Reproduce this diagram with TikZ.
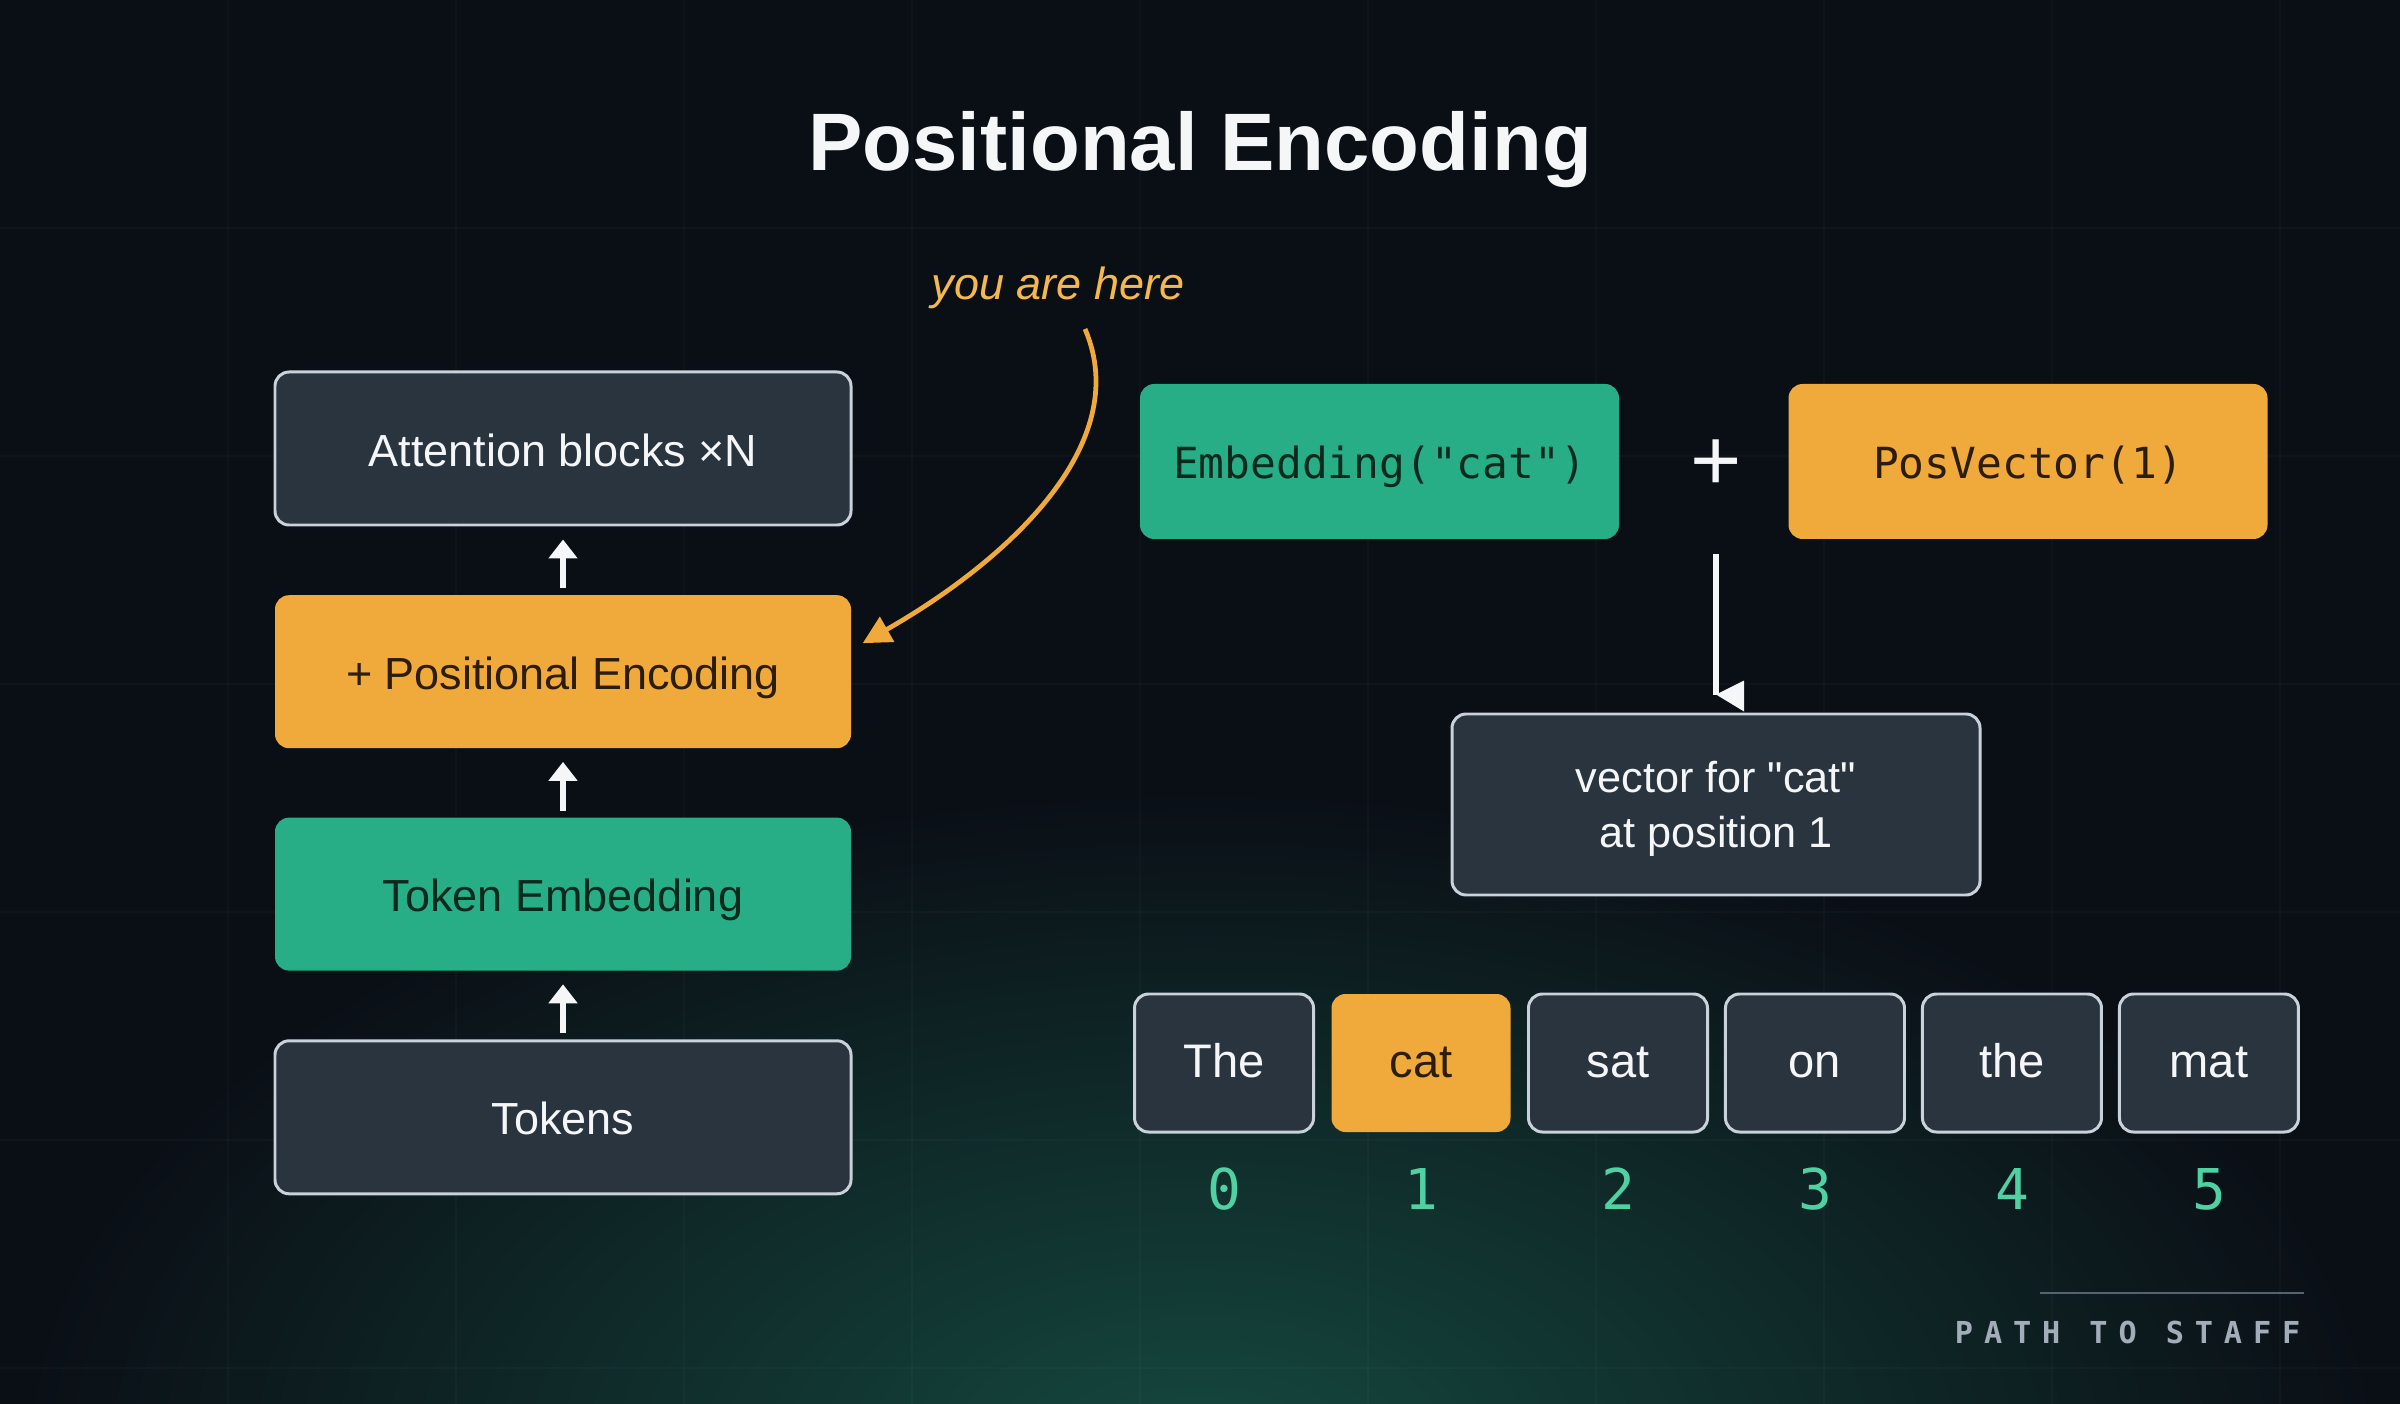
\documentclass[tikz,border=0pt]{standalone}
\usepackage{fontspec}
\setmainfont{Liberation Sans}
\setmonofont{DejaVu Sans Mono}
\newfontfamily\brandfont{DejaVu Sans Mono}[LetterSpace=36]
\usepackage{xcolor}
\usetikzlibrary{arrows.meta,positioning}

\definecolor{bgdark}{HTML}{0A0E15}
\definecolor{glow}{HTML}{15493F}
\definecolor{slate}{HTML}{2A343F}
\definecolor{edge}{HTML}{C9D1DA}
\definecolor{amber}{HTML}{F0A93B}
\definecolor{amberdark}{HTML}{2B1D07}
\definecolor{jade}{HTML}{27AE86}
\definecolor{jadedark}{HTML}{0A2A1E}
\definecolor{mint}{HTML}{4FD1A3}
\definecolor{note}{HTML}{F5B84C}
\definecolor{paper}{HTML}{F4F6F8}
\definecolor{footgray}{HTML}{A3ADB9}
\definecolor{footrule}{HTML}{56626D}

\begin{document}
\begin{tikzpicture}[x=1cm, y=-1cm,
  node distance=0.68cm and 0.15cm,
  stage/.style={rounded corners=4pt, align=center, minimum width=5.76cm,
                minimum height=1.53cm, font=\fontsize{12.8}{15.6}\selectfont,
                text height=11pt, text depth=1pt},
  slatebox/.style={stage, draw=edge, line width=0.85pt, fill=slate, text=paper},
  amberbox/.style={stage, fill=amber, text=amberdark},
  jadebox/.style={stage, fill=jade, text=jadedark},
  codebox/.style={rounded corners=4pt, minimum width=4.79cm, minimum height=1.55cm,
                  font=\ttfamily\fontsize{12.2}{14}\selectfont,
                  text height=10.6pt, text depth=1.2pt},
  vecbox/.style={rounded corners=4pt, align=center, minimum width=5.28cm,
                 minimum height=1.81cm, draw=edge, line width=0.85pt, fill=slate,
                 text=paper, font=\fontsize{12.3}{15.6}\selectfont, text depth=0pt},
  tok/.style={rounded corners=4pt, minimum width=1.79cm, minimum height=1.38cm,
              draw=edge, line width=0.85pt, fill=slate, text=paper,
              font=\fontsize{13.4}{16}\selectfont, text height=10.7pt, text depth=2.2pt},
  idx/.style={font=\ttfamily\fontsize{16}{18}\selectfont, text=mint, inner sep=0pt},
  uparr/.style={-{Triangle[length=5.4pt, width=8pt]}, line width=1.6pt, draw=paper,
                shorten <=0.06cm, shorten >=0.13cm},
  sumline/.style={line width=1.7pt, draw=paper},
  hint/.style={-{Triangle[length=8pt, width=8pt]}, line width=1.35pt, draw=amber},
  gridline/.style={draw=white, draw opacity=0.025, line width=0.5pt}]

  \useasboundingbox (0,0) rectangle (24,14.04);
  \fill[bgdark] (0,0) rectangle (24,14.04);
  \begin{scope}
    \clip (0,0) rectangle (24,14.04);
    \shade[inner color=glow, outer color=bgdark] (12,14.6) ellipse (12 and 6.8);
  \end{scope}
  \foreach \gx in {1,...,10} \draw[gridline] (2.28*\gx,0) -- (2.28*\gx,14.04);
  \foreach \gy in {1,...,6} \draw[gridline] (0,2.28*\gy) -- (24,2.28*\gy);

  \node[font=\bfseries\fontsize{23.2}{28}\selectfont, text=paper, anchor=base]
       (title) at (12,1.71) {Positional Encoding};
  \node[font=\itshape\fontsize{12.8}{15}\selectfont, text=note, anchor=base]
       (here) at (10.58,3.0) {you are here};

  \node[slatebox] (att) at (5.63,4.485) {Attention blocks ×N};
  \node[amberbox, below=of att] (pe) {+ Positional Encoding};
  \node[jadebox, below=of pe] (emb) {Token Embedding};
  \node[slatebox, below=of emb] (toks) {Tokens};

  \draw[uparr] (toks) -- (emb);
  \draw[uparr] (emb) -- (pe);
  \draw[uparr] (pe) -- (att);

  \coordinate (hintstart) at (10.85,3.29);
  \draw[hint] (hintstart) .. controls (11.35,4.45) and (10.05,5.62)
        .. ([xshift=0.11cm, yshift=0.285cm]pe.east);

  \node[codebox, fill=jade, text=jadedark] (embcat) at (13.795,4.615) {Embedding("cat")};
  \node[font=\fontsize{25}{30}\selectfont, text=paper] (plus) at (17.16,4.65) {+};
  \node[codebox, fill=amber, text=amberdark] (posvec) at (20.28,4.615) {PosVector(1)};
  \node[vecbox] (vec) at (17.16,8.045)
       {vector for \textquotedbl cat\textquotedbl\\at position 1};

  \coordinate (sumtop) at ([yshift=-0.89cm]plus.center);
  \draw[sumline] (sumtop) -- ([yshift=0.18cm]vec.north);
  \fill[paper] ([yshift=0.18cm]vec.north) -- ++(0.28,-0.14) -- ++(0,0.31) -- cycle;

  \node[tok] (t0) at (12.24,10.63) {The};
  \node[tok, right=of t0, draw=none, fill=amber, text=amberdark] (t1) {cat};
  \node[tok, right=of t1] (t2) {sat};
  \node[tok, right=of t2] (t3) {on};
  \node[tok, right=of t3] (t4) {the};
  \node[tok, right=of t4] (t5) {mat};

  \node[idx, below=0.34cm of t0] (i0) {0};
  \node[idx, below=0.34cm of t1] (i1) {1};
  \node[idx, below=0.34cm of t2] (i2) {2};
  \node[idx, below=0.34cm of t3] (i3) {3};
  \node[idx, below=0.34cm of t4] (i4) {4};
  \node[idx, below=0.34cm of t5] (i5) {5};

  \node[font=\brandfont\bfseries\fontsize{8.6}{10}\selectfont, text=footgray,
        anchor=base east, inner sep=0pt] (brand) at (23.01,13.43) {PATH TO STAFF};
  \draw[footrule, line width=0.55pt] (20.40,12.93) -- (23.04,12.93);
\end{tikzpicture}
\end{document}
